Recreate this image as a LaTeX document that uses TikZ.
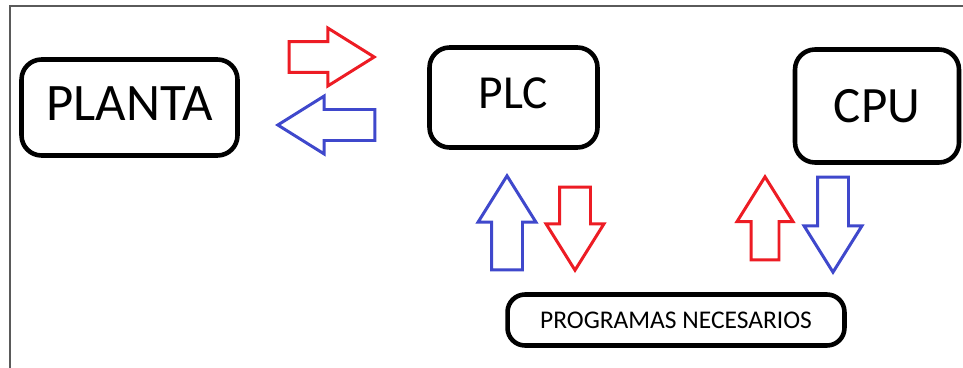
\documentclass[tikz,border=0pt]{standalone}
\usepackage{fontspec}
\setmainfont{Carlito}
\usetikzlibrary{positioning,shapes.arrows}
\definecolor{pred}{RGB}{237,28,36}
\definecolor{pblue}{RGB}{63,72,204}
\definecolor{frameg}{RGB}{90,90,90}
\tikzset{
  box/.style={draw=black, line width=2.6pt, rounded corners=0.4cm, fill=white,
              inner sep=0pt, align=center, text=black},
  flow/.style={single arrow, line width=1.7pt, fill=white, inner sep=0.28cm,
              minimum width=1.12cm, single arrow head extend=0.27cm,
              single arrow tip angle=64},
  rflow/.style={flow, draw=pred},
  bflow/.style={flow, draw=pblue},
  big/.style={font=\fontsize{#1}{#1}\selectfont},
}

\begin{document}
\begin{tikzpicture}[x=0.02cm, y=-0.02cm]
  \useasboundingbox (0,0) rectangle (963,368);
  \fill[white] (0,0) rectangle (963,368);

  % frame
  \draw[frameg, line width=1.3pt] (10,368) -- (10,6) -- (963,6);

  % main blocks
  \node[box, big=30, minimum width=4.32cm, minimum height=1.92cm, text depth=0.16cm]
    (planta) at (129.5,107.5) {PLANTA};
  \node[box, big=27, minimum width=3.36cm, minimum height=2.0cm, text depth=0.16cm]
    (plc) at (513.5,97.5) {PLC};
  \node[box, big=29, minimum width=3.28cm, minimum height=2.26cm]
    (cpu) at (877,106) {CPU};
  \node[box, big=14.5, rounded corners=0.35cm, minimum width=6.74cm, minimum height=1.02cm]
    (prog) at (676,320) {PROGRAMAS NECESARIOS};

  % planta <-> plc
  \node[rflow, anchor=tip, minimum width=1.1cm, minimum height=1.7cm]
    (pl2plc) at (377,57) {};
  \node[bflow, anchor=tip, shape border rotate=180, minimum width=1.16cm, minimum height=1.94cm]
    (plc2pl) at (275,125) {};

  % plc <-> programas
  \node[bflow, anchor=tip, shape border rotate=90, minimum width=1.16cm, minimum height=1.88cm]
    (prog2plc) at (507,173) {};
  \node[rflow, anchor=tip, shape border rotate=270, minimum width=1.08cm, minimum height=1.66cm]
    (plc2prog) at (575,273) {};

  % cpu <-> programas
  \node[rflow, anchor=tip, shape border rotate=90, minimum width=1.08cm, minimum height=1.66cm,
        inner sep=0.25cm, single arrow head extend=0.28cm]
    (prog2cpu) at (765,174) {};
  \node[bflow, anchor=tip, shape border rotate=270, minimum width=1.14cm, minimum height=1.9cm]
    (cpu2prog) at (833,275) {};
\end{tikzpicture}
\end{document}
